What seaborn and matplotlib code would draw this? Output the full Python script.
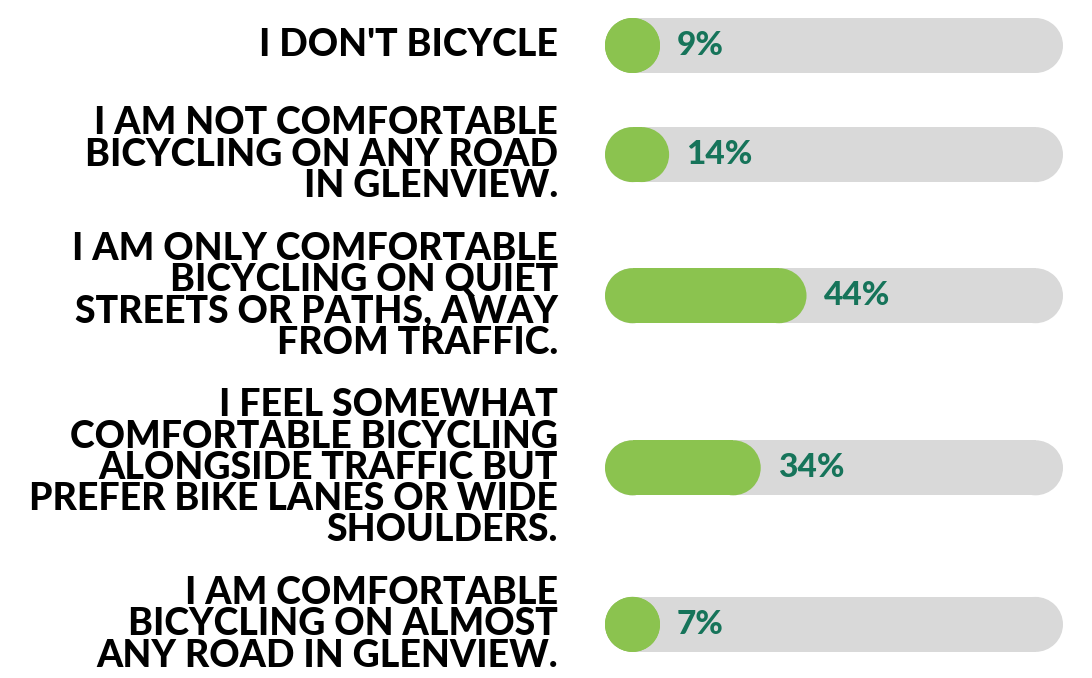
import matplotlib
matplotlib.use("Agg")
import matplotlib.pyplot as plt
import matplotlib.transforms as mtransforms
from matplotlib.patches import Rectangle, Ellipse
import seaborn as sns
import pandas as pd

# survey answers and share of respondents (%)
answers = [
    "I DON'T BICYCLE",
    "I AM NOT COMFORTABLE\nBICYCLING ON ANY ROAD\nIN GLENVIEW.",
    "I AM ONLY COMFORTABLE\nBICYCLING ON QUIET\nSTREETS OR PATHS, AWAY\nFROM TRAFFIC.",
    "I FEEL SOMEWHAT\nCOMFORTABLE BICYCLING\nALONGSIDE TRAFFIC BUT\nPREFER BIKE LANES OR WIDE\nSHOULDERS.",
    "I AM COMFORTABLE\nBICYCLING ON ALMOST\nANY ROAD IN GLENVIEW.",
]
shares = [9, 14, 44, 34, 7]

GREEN = "#8BC34F"
TRACK = "#D9D9D9"
TXT_GREEN = "#16745A"

sns.set_theme(style="white")
plt.rcParams["font.family"] = ["Lato", "DejaVu Sans"]

W, H = 1092, 678
fig = plt.figure(figsize=(W / 100, H / 100), dpi=100)
# bar area: 605px -> 1063px spans 0..100 %
ax = fig.add_axes([605 / W, 0, (1063 - 605) / W, 1])
px_per_pct = (1063 - 605) / 100

# layout: stack rows by text height, y in pixels from top
line_h, cap_h, bar_h, gap = 31, 26, 55, 37.6
centers = []
top = 18
for a in answers:
    ext = max(line_h * (len(a.split("\n")) - 1) + cap_h, bar_h)
    centers.append(top + ext / 2)
    top += ext + gap

df = pd.DataFrame({"answer": answers, "share": shares, "y": centers})
df["track"] = 100
min_gap = min(b - a for a, b in zip(centers, centers[1:]))
w = bar_h / min_gap

sns.barplot(data=df, x="track", y="y", orient="h", native_scale=True,
            color=TRACK, width=w, ax=ax, saturation=1)
sns.barplot(data=df, x="share", y="y", orient="h", native_scale=True,
            color=GREEN, width=w, ax=ax, saturation=1)

ax.set_xlim(0, 100)
ax.set_ylim(H, 0)
ax.axis("off")

# swap square bars for pill shapes (rect body + round caps)
cap_w = bar_h / px_per_pct  # cap diameter in % units
rects = list(ax.patches)
for i, p in enumerate(rects):
    x0, y0, bw, bh = p.get_x(), p.get_y(), p.get_width(), p.get_height()
    bw = max(bw, cap_w)
    fc = p.get_facecolor()
    z = 2 if i >= len(answers) else 1
    yc = y0 + bh / 2
    ax.add_patch(Rectangle((x0 + cap_w / 2, y0), bw - cap_w, bh, fc=fc, ec="none", zorder=z))
    ax.add_patch(Ellipse((x0 + cap_w / 2, yc), cap_w, bh, fc=fc, ec="none", zorder=z))
    ax.add_patch(Ellipse((x0 + bw - cap_w / 2, yc), cap_w, bh, fc=fc, ec="none", zorder=z))
    p.set_visible(False)

# percent labels
for s, y in zip(shares, centers):
    end = max(s, cap_w)
    ax.text(end + 17 / px_per_pct, y, f"{s}%", color=TXT_GREEN,
            fontsize=24, fontweight="black", va="center", ha="left", zorder=3)

# answer labels, right aligned left of the bars
tr = mtransforms.blended_transform_factory(fig.transFigure, ax.transData)
for a, y in zip(answers, centers):
    ax.text(558 / W, y, a, transform=tr, ha="right", va="center",
            multialignment="right", fontsize=27, fontweight="black",
            color="black", linespacing=0.9)

fig.savefig("out.png", dpi=100, facecolor="white")
